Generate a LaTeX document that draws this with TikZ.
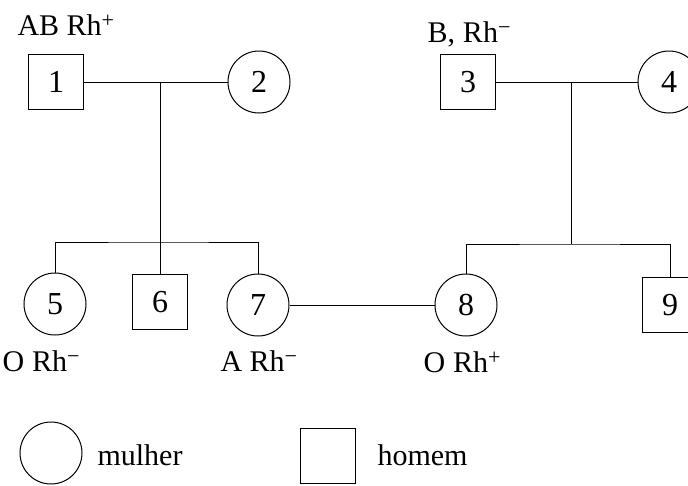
\documentclass[tikz,border=0pt]{standalone}
\usepackage{fontspec}
\setmainfont{Liberation Serif}
\usepackage{tikz}
\tikzset{
	homem/.style={draw, minimum size=55pt, inner sep=0pt, font=\fontsize{32}{34}\selectfont},
	mulher/.style={draw, circle, minimum size=62pt, inner sep=0pt, font=\fontsize{32}{34}\selectfont},
	rotulo/.style={anchor=base west, inner sep=0pt, font=\fontsize{30}{32}\selectfont}
}
\newcommand{\homem}[4]{\node[homem] (#1) at (#2,#3) {#4};}
\newcommand{\mulher}[4]{\node[mulher] (#1) at (#2,#3) {#4};}
\newcommand{\rotulo}[4]{\node[rotulo] (#1) at (#2,#3) {#4};}
\newcommand{\rh}[1]{Rh\raisebox{8pt}{\fontsize{22}{22}\selectfont #1}}

\begin{document}
\begin{tikzpicture}[x=1pt, y=-1pt, line width=1pt]
		\useasboundingbox (0,0) rectangle (688,485);

		% geracao I
		\homem{n1}{56}{82}{1};
		\mulher{n2}{259}{82}{2};
		\homem{n3}{468}{82}{3};
		\mulher{n4}{669}{82}{4};

		% geracao II
		\mulher{n5}{55}{304}{5};
		\homem{n6}{160}{302}{6};
		\mulher{n7}{258}{305}{7};
		\mulher{n8}{466}{305}{8};
		\homem{n9}{670}{305}{9};

		% casais e filhos
		\coordinate (c12) at (160,82);
		\coordinate (s12) at (160,242);
		\coordinate (c34) at (571,82);
		\coordinate (s34) at (571,244);

		\draw (n1) -- (n2);
		\draw (n3) -- (n4);
		\draw (n7) -- (n8);
		\draw (c12) -- (n6);
		\draw (n5) |- (s12) -| (n7);
		\draw (c34) -- (s34);
		\draw (n8) |- (s34) -| (n9);

		% fenotipos
		\rotulo{r1}{17}{35}{AB \rh{+}};
		\rotulo{r3}{427}{42}{B,\hspace{8pt}\rh{−}};
		\rotulo{r5}{2}{371}{O\hspace{8pt}\rh{−}};
		\rotulo{r7}{220}{371}{A \rh{−}};
		\rotulo{r8}{423}{372}{O\hspace{8pt}\rh{+}};

		% legenda
		\mulher{lm}{51}{453}{};
		\homem{lh}{328}{456}{};
		\rotulo{tm}{97}{465}{mulher};
		\rotulo{th}{377}{465}{homem};
	\end{tikzpicture}
\end{document}
